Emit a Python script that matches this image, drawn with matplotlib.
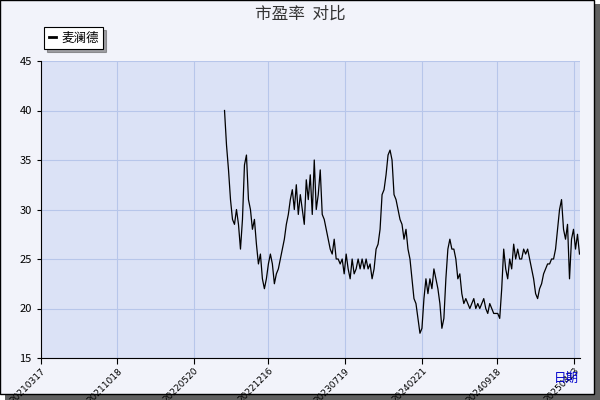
import numpy as np
import pandas as pd
import matplotlib
matplotlib.use('Agg')
import matplotlib.pyplot as plt
from matplotlib.patches import Rectangle

plt.rcParams['font.family'] = ['Noto Sans CJK SC', 'DejaVu Sans']

# 市盈率 readings, roughly evenly spaced in time
pe = [40, 36.5, 34, 31, 29, 28.5, 30, 28.5, 26, 29, 34.5, 35.5, 31, 30, 28, 29, 26.5, 24.5,
      25.5, 23, 22, 23, 24.5, 25.5, 24.5, 22.5, 23.5, 24, 25, 26, 27, 28.5, 29.5, 31, 32, 30,
      32.5, 29.5, 31.5, 30, 28.5, 33, 31, 33.5, 29.5, 35, 30, 31.5, 34, 29.5, 29, 28, 27, 26,
      25.5, 27, 25, 25, 24.5, 25, 23.5, 25.5, 24, 23, 25, 23.5, 24, 25, 24, 25, 24, 25, 24,
      24.5, 23, 24, 26, 26.5, 28, 31.5, 32, 33.5, 35.5, 36, 35, 31.5, 31, 30, 29, 28.5, 27,
      28, 26, 25, 23, 21, 20.5, 19, 17.5, 18, 21, 23, 21.5, 23, 22, 24, 23, 22, 20.5, 18, 19,
      23, 26, 27, 26, 26, 25, 23, 23.5, 21.5, 20.5, 21, 20.5, 20, 20.5, 21, 20, 20.5, 20,
      20.5, 21, 20, 19.5, 20.5, 20, 19.5, 19.5, 19.5, 19, 22, 26, 24, 23, 25, 24, 26.5, 25,
      26, 25, 25, 26, 25.5, 26, 25, 24, 23, 21.5, 21, 22, 22.5, 23.5, 24, 24.5, 24.5, 25, 25,
      26, 28, 30, 31, 28, 27, 28.5, 23, 27, 28, 26, 27.5, 25.5]
dates = pd.date_range('2022-08-15', '2025-05-08', periods=len(pe))

tick_labels = ['20210317', '20211018', '20220520', '20221216', '20230719',
               '20240221', '20240918', '20250423']
tick_dates = pd.to_datetime(tick_labels, format='%Y%m%d')

fig = plt.figure(figsize=(6, 4), dpi=100, facecolor='white')
# shadow + framed background
fig.patches.append(Rectangle((0.008, 0.0), 0.992, 0.99, transform=fig.transFigure,
                             facecolor='#606060', edgecolor='none', zorder=-3))
fig.patches.append(Rectangle((0.0, 0.015), 0.99, 0.985, transform=fig.transFigure,
                             facecolor='#f2f3fa', edgecolor='black', lw=1, zorder=-2))

ax = fig.add_axes([0.068, 0.105, 0.899, 0.7425])
ax.set_facecolor('#dbe2f6')
ax.plot(dates, pe, color='black', lw=0.9, label='麦澜德')
ax.set_xlim(pd.Timestamp('2021-03-17'), pd.Timestamp('2025-05-10'))
ax.set_ylim(15, 45)
ax.set_yticks(range(15, 46, 5))
ax.set_xticks(tick_dates)
ax.set_xticklabels(tick_labels, rotation=45, ha='right', va='top', rotation_mode='anchor',
                   fontsize=6.5, family='DejaVu Sans')
ax.tick_params(axis='y', labelsize=8, length=3)
ax.tick_params(axis='x', length=4, pad=2)
ax.grid(True, color='#b7c6ea', lw=0.8)
for s in ['top', 'right']:
    ax.spines[s].set_visible(False)
for s in ['left', 'bottom']:
    ax.spines[s].set_color('black')

fig.text(0.5, 0.965, '市盈率  对比', ha='center', va='center', fontsize=12, color='#333333')
fig.text(0.965, 0.055, '日期', ha='right', va='center', fontsize=9, color='#0000cc')

leg = ax.legend(loc='lower left', bbox_to_anchor=(-0.005, 1.02), fontsize=9,
                frameon=True, fancybox=False, shadow=True, handlelength=0.6,
                borderpad=0.35, handletextpad=0.4)
leg.get_frame().set_edgecolor('black')
leg.get_frame().set_linewidth(0.8)
leg.get_lines()[0].set_linewidth(2)

fig.savefig('out.png', dpi=100)
